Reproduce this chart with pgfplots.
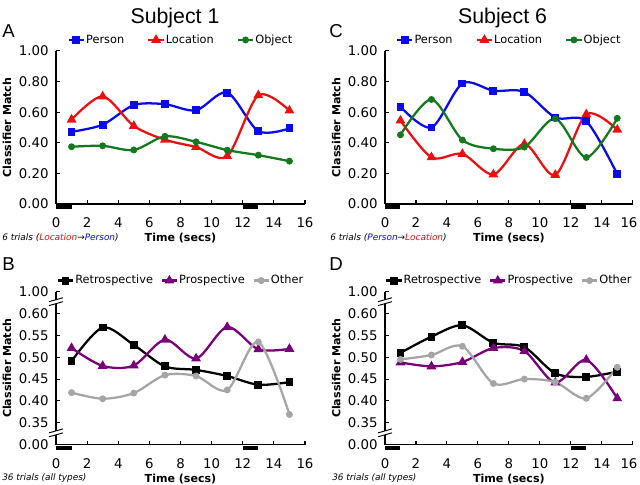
\documentclass[border=0pt]{standalone}
\usepackage{fontspec}
\setmainfont{DejaVu Sans}
\newfontfamily\arialfont{Liberation Sans}
\usepackage{pgfplots}
\usepackage{pgfplotstable}
\pgfplotsset{compat=1.18}

\definecolor{cblue}{RGB}{10,10,235}
\definecolor{cred}{RGB}{235,15,15}
\definecolor{cgreen}{RGB}{20,120,30}
\definecolor{cpurple}{RGB}{120,0,120}
\definecolor{cgray}{RGB}{165,165,165}

% subject 1 / subject 6, category decoding
\pgfplotstableread{
t person location object
1 0.472 0.551 0.374
3 0.518 0.703 0.380
5 0.646 0.510 0.353
7 0.652 0.420 0.442
9 0.612 0.372 0.406
11 0.728 0.313 0.352
13 0.476 0.710 0.319
15 0.494 0.610 0.280
}\subjA
\pgfplotstableread{
t person location object
1 0.635 0.545 0.452
3 0.500 0.305 0.683
5 0.787 0.327 0.418
7 0.740 0.193 0.361
9 0.732 0.392 0.372
11 0.565 0.190 0.557
13 0.541 0.586 0.304
15 0.195 0.485 0.560
}\subjC
% retrospective / prospective / other
\pgfplotstableread{
t retro prosp other
1 0.491 0.521 0.419
3 0.568 0.480 0.405
5 0.528 0.481 0.418
7 0.479 0.540 0.459
9 0.471 0.497 0.457
11 0.457 0.569 0.425
13 0.437 0.518 0.535
15 0.443 0.519 0.369
}\subjB
\pgfplotstableread{
t retro prosp other
1 0.510 0.488 0.495
3 0.547 0.479 0.505
5 0.573 0.489 0.525
7 0.533 0.521 0.440
9 0.523 0.514 0.450
11 0.463 0.442 0.443
13 0.455 0.494 0.406
15 0.467 0.406 0.477
}\subjD

\pgfplotsset{
  panel/.style={
    scale only axis, width=186.75pt, height=114.8pt,
    xmin=0, xmax=16, clip=false,
    axis lines=left, axis line style={-, line width=0.8pt},
    tick align=inside, major tick length=3pt,
    tick style={black, line width=0.8pt},
    xtick={0,2,...,16}, xticklabels={0,2,4,6,8,10,12,14,16},
    ticklabel style={font=\fontsize{10}{12}\selectfont},
    xticklabel style={yshift=-6.8pt},
    yticklabel style={xshift=-2pt},
    xlabel={Time (secs)}, ylabel={Classifier Match},
    label style={font=\bfseries\fontsize{8.3}{10}\selectfont},
    xlabel style={at={(axis description cs:0.5,-0.222)}, anchor=center},
    ylabel style={at={(axis description cs:-0.197,0.5)}, anchor=center},
    legend columns=-1,
    legend style={at={(axis description cs:0.5,1)}, anchor=center, yshift=8.25pt,
      draw=none, fill=none, inner sep=0pt,
      font=\fontsize{8.5}{10}\selectfont,
      nodes={inner xsep=0.8pt}},
    legend image code/.code={\draw[mark repeat=2,mark phase=2]
      plot coordinates {(0cm,0cm)(0.2cm,0cm)(0.4cm,0cm)};},
    every axis plot/.append style={line width=1.7pt, smooth, mark options={solid}},
  },
  % right column: slightly narrower, last tick label pulled in as in the original
  rightcol/.style={width=185.8pt,
    xticklabels={0,2,4,6,8,10,12,14,{\hspace*{-5.6pt}16}}},
  toprow/.style={panel, ymin=0, ymax=1,
    ytick={0,0.2,0.4,0.6,0.8,1}, yticklabels={0.00,0.20,0.40,0.60,0.80,1.00},
    legend style={/tikz/every even column/.append style={column sep=16.5pt}}},
  botrow/.style={panel, ymin=0, ymax=7,
    ytick={0,...,7}, yticklabels={0.00,0.35,0.40,0.45,0.50,0.55,0.60,1.00},
    legend style={/tikz/every even column/.append style={column sep=5pt}}},
}

\newcommand{\ybreak}[1]{%
  \fill[white] (axis cs:-0.45,#1-0.14) -- (axis cs:0.45,#1+0.04) -- (axis cs:0.45,#1+0.22) -- (axis cs:-0.45,#1+0.04) -- cycle;
  \draw[black, line width=0.7pt] (axis cs:-0.45,#1-0.14) -- (axis cs:0.45,#1+0.04)
    (axis cs:-0.45,#1+0.04) -- (axis cs:0.45,#1+0.22);}

\begin{document}
\begin{tikzpicture}
\useasboundingbox (0,0) rectangle (480pt,-363.75pt);

\node[font=\arialfont\fontsize{16}{18}\selectfont] at (131.25pt,-13.5pt) {Subject 1};
\node[font=\arialfont\fontsize{16}{18}\selectfont] at (376.9pt,-13.5pt) {Subject 6};
\node[font=\arialfont\fontsize{14}{16}\selectfont] at (6.4pt,-23.6pt) {A};
\node[font=\arialfont\fontsize{14}{16}\selectfont] at (252pt,-23.6pt) {C};
\node[font=\arialfont\fontsize{14}{16}\selectfont] at (6.4pt,-198pt) {B};
\node[font=\arialfont\fontsize{14}{16}\selectfont] at (252pt,-198pt) {D};

\begin{scope}[every node/.style={anchor=west, inner sep=0pt, font=\itshape\fontsize{6.7}{8}\selectfont}]
\node at (1.5pt,-178.5pt) {6 trials (\textcolor{cred}{Location}→\textcolor{cblue}{Person})};
\node at (247.5pt,-178.5pt) {6 trials (\textcolor{cblue}{Person}→\textcolor{cred}{Location})};
\node at (1.5pt,-358.5pt) {36 trials (all types)};
\node at (249pt,-358.5pt) {36 trials (all types)};
\end{scope}

% A
\begin{axis}[toprow, at={(42pt,-153pt)}, anchor=south west]
\addplot[cblue, mark=square*, mark size=2.1pt] table[x=t, y=person] {\subjA};
\addplot[cred, mark=triangle*, mark size=2.6pt] table[x=t, y=location] {\subjA};
\addplot[cgreen, mark=*, mark size=1.7pt] table[x=t, y=object] {\subjA};
\legend{Person, Location, Object}
\addplot[black, line width=3pt, no marks, sharp plot, forget plot] coordinates {(0,-0.02) (1,-0.02)};
\addplot[black, line width=3pt, no marks, sharp plot, forget plot] coordinates {(12,-0.02) (13,-0.02)};
\end{axis}

% C
\begin{axis}[toprow, rightcol, at={(288.75pt,-153pt)}, anchor=south west]
\addplot[cblue, mark=square*, mark size=2.1pt] table[x=t, y=person] {\subjC};
\addplot[cred, mark=triangle*, mark size=2.6pt] table[x=t, y=location] {\subjC};
\addplot[cgreen, mark=*, mark size=1.7pt] table[x=t, y=object] {\subjC};
\legend{Person, Location, Object}
\addplot[black, line width=3pt, no marks, sharp plot, forget plot] coordinates {(0,-0.02) (1,-0.02)};
\addplot[black, line width=3pt, no marks, sharp plot, forget plot] coordinates {(12,-0.02) (13,-0.02)};
\end{axis}

% B (broken axis: 0.35..0.60 mapped to 1..6)
\begin{axis}[botrow, at={(42pt,-333.5pt)}, anchor=south west]
\addplot[black, mark=square*, mark size=2.1pt] table[x=t, y expr={(\thisrow{retro}-0.30)*20}] {\subjB};
\addplot[cpurple, mark=triangle*, mark size=2.6pt] table[x=t, y expr={(\thisrow{prosp}-0.30)*20}] {\subjB};
\addplot[cgray, mark=*, mark size=1.7pt] table[x=t, y expr={(\thisrow{other}-0.30)*20}] {\subjB};
\legend{Retrospective, Prospective, Other}
\addplot[black, line width=3pt, no marks, sharp plot, forget plot] coordinates {(0,-0.14) (1,-0.14)};
\addplot[black, line width=3pt, no marks, sharp plot, forget plot] coordinates {(12,-0.14) (13,-0.14)};
\ybreak{6.5}
\ybreak{0.5}
\end{axis}

% D
\begin{axis}[botrow, rightcol, at={(288.75pt,-333.5pt)}, anchor=south west]
\addplot[black, mark=square*, mark size=2.1pt] table[x=t, y expr={(\thisrow{retro}-0.30)*20}] {\subjD};
\addplot[cpurple, mark=triangle*, mark size=2.6pt] table[x=t, y expr={(\thisrow{prosp}-0.30)*20}] {\subjD};
\addplot[cgray, mark=*, mark size=1.7pt] table[x=t, y expr={(\thisrow{other}-0.30)*20}] {\subjD};
\legend{Retrospective, Prospective, Other}
\addplot[black, line width=3pt, no marks, sharp plot, forget plot] coordinates {(0,-0.14) (1,-0.14)};
\addplot[black, line width=3pt, no marks, sharp plot, forget plot] coordinates {(12,-0.14) (13,-0.14)};
\ybreak{6.5}
\ybreak{0.5}
\end{axis}
\end{tikzpicture}
\end{document}
